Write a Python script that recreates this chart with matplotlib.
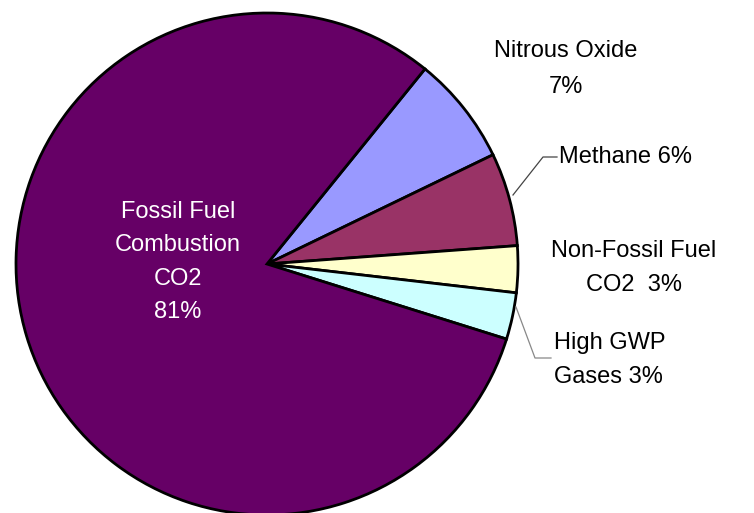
import matplotlib
matplotlib.use('Agg')
import matplotlib.pyplot as plt

# Emission shares (percent), drawn clockwise from the Nitrous Oxide wedge
sources = ['Nitrous Oxide', 'Methane', 'Non-Fossil Fuel CO2', 'High GWP Gases', 'Fossil Fuel Combustion CO2']
shares = [7, 6, 3, 3, 81]
colors = ['#9999FF', '#993366', '#FFFFCC', '#CCFFFF', '#660066']

plt.rcParams['font.family'] = ['Liberation Sans', 'DejaVu Sans']

W, H = 754, 513
fig = plt.figure(figsize=(W / 100, H / 100), dpi=100)
ax = fig.add_axes([0, 0, 1, 1])


def py(y):
    # pixel row (from top) to data y
    return H - y


ax.pie(shares, colors=colors, startangle=51, counterclock=False,
       center=(267, py(264)), radius=251,
       wedgeprops=dict(edgecolor='black', linewidth=2))
ax.set_xlim(0, W)
ax.set_ylim(0, H)
ax.set_aspect('equal')
ax.axis('off')

fs = 17
ax.text(178, py(262), f'Fossil Fuel\nCombustion\nCO2\n{shares[4]}%', color='white',
        ha='center', va='center', fontsize=fs, linespacing=1.65)
ax.text(566, py(69), f'Nitrous Oxide\n{shares[0]}%', ha='center', va='center',
        fontsize=fs, linespacing=1.8)
ax.text(559, py(157), f'Methane {shares[1]}%', ha='left', va='center', fontsize=fs)
ax.text(634, py(268), f'Non-Fossil Fuel\nCO2  {shares[2]}%', ha='center', va='center',
        fontsize=fs, linespacing=1.7)
ax.text(554, py(360), f'High GWP\nGases {shares[3]}%', ha='left', va='center',
        fontsize=fs, linespacing=1.65)

# leader lines
ax.plot([513, 543, 557], [py(195), py(157), py(157)], color='#444444', linewidth=0.9)
ax.plot([516, 535, 551], [py(307), py(358), py(358)], color='#888888', linewidth=0.9)

fig.savefig('out.png', dpi=100)
